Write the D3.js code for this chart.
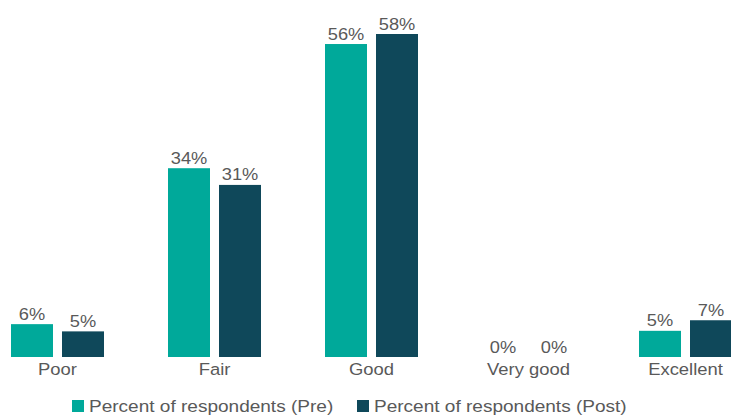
<!DOCTYPE html>
<html>
<head>
<meta charset="utf-8">
<script src="https://cdn.jsdelivr.net/npm/d3@7"></script>
<style>
  body { margin: 0; background: #fff; }
  svg { display: block; font-family: Arial, "Liberation Sans", sans-serif; }
</style>
</head>
<body>
<div id="chart"></div>
<script>
var categories = ['Poor', 'Fair', 'Good', 'Very good', 'Excellent']
var seriesNames = ['Percent of respondents (Pre)', 'Percent of respondents (Post)']
var preValues = [5.9, 33.9, 56.2, 0, 4.7]
var postValues = [4.6, 30.9, 58.0, 0, 6.6]
var colors = ['#00a99a', '#0f485a']

var w = 731
var h = 417
var baseline = 357
var stretch = 1.12 // text in the original is a bit wider than tall

var svg = d3.select('#chart')
  .append('svg')
  .attr('width', w)
  .attr('height', h)

// plot area extends past the left/right edges (cropped like the original)
var x0 = d3.scaleBand()
  .domain(categories)
  .range([-21, 764])
  .padding(0)

var bw = x0.bandwidth()
var x1 = d3.scaleBand()
  .domain([0, 1])
  .range([bw / 2 - 46.5, bw / 2 + 46.5])
  .paddingInner(0.1765)

var y = d3.scaleLinear()
  .domain([0, 58])
  .range([baseline, 34])

var rows = categories.map(function (c, i) {
  return { cat: c, vals: [preValues[i], postValues[i]] }
})

var groups = svg.selectAll('g.grp')
  .data(rows)
  .enter()
  .append('g')
  .attr('class', 'grp')
  .attr('transform', function (d) { return 'translate(' + x0(d.cat) + ',0)' })

groups.selectAll('rect')
  .data(function (d) { return d.vals.map(function (v, k) { return { k: k, v: v } }) })
  .enter()
  .append('rect')
  .attr('x', function (d) { return x1(d.k) })
  .attr('width', x1.bandwidth())
  .attr('y', function (d) { return y(d.v) })
  .attr('height', function (d) { return baseline - y(d.v) })
  .attr('fill', function (d) { return colors[d.k] })

groups.selectAll('text.val')
  .data(function (d) { return d.vals.map(function (v, k) { return { k: k, v: v } }) })
  .enter()
  .append('text')
  .attr('class', 'val')
  .attr('transform', function (d) {
    return 'translate(' + (x1(d.k) + x1.bandwidth() / 2) + ',' + (y(d.v) - 4.5) + ') scale(' + stretch + ',1)'
  })
  .attr('text-anchor', 'middle')
  .attr('font-size', 16.3)
  .attr('fill', '#595959')
  .text(function (d) { return Math.round(d.v) + '%' })

// category axis labels
var xAxis = d3.axisBottom(x0).tickSize(0).tickPadding(0)
var ax = svg.append('g')
  .attr('transform', 'translate(0,' + baseline + ')')
  .call(xAxis)
ax.select('.domain').remove()
ax.selectAll('text')
  .attr('dy', null)
  .attr('y', 18)
  .attr('transform', 'scale(' + 1.11 + ',1)')
  .attr('font-size', 16.6)
  .attr('font-family', 'Arial, "Liberation Sans", sans-serif')
  .attr('fill', '#595959')

// legend
var legendX = [72, 357]
var legend = svg.selectAll('g.leg')
  .data(seriesNames)
  .enter()
  .append('g')
  .attr('class', 'leg')
  .attr('transform', function (d, i) { return 'translate(' + legendX[i] + ',400)' })

legend.append('rect')
  .attr('width', 12)
  .attr('height', 12)
  .attr('fill', function (d, i) { return colors[i] })

legend.append('text')
  .attr('transform', 'translate(17,11.5) scale(1.14,1)')
  .attr('font-size', 16.7)
  .attr('fill', '#595959')
  .text(function (d) { return d })
</script>
</body>
</html>
